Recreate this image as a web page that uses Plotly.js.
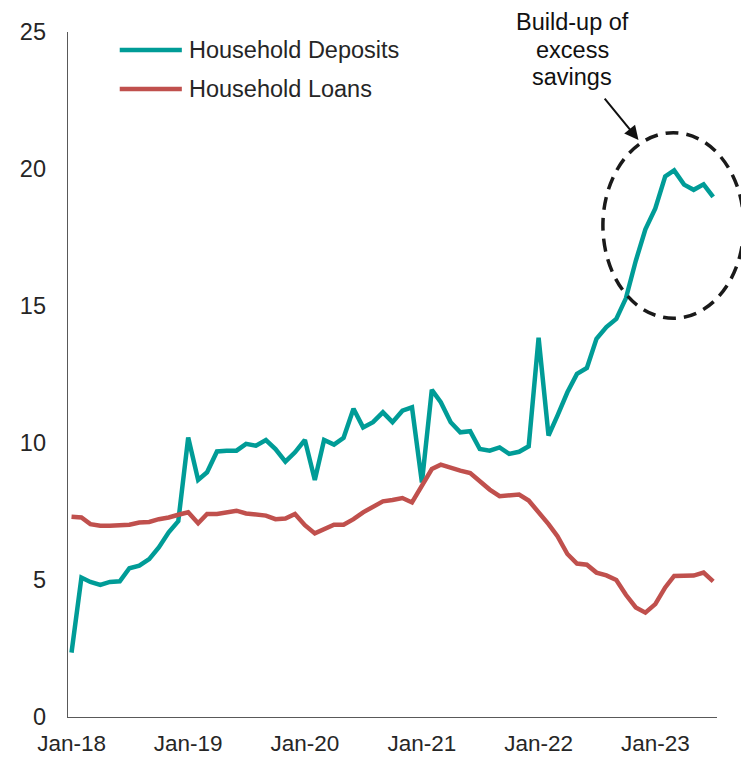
<!DOCTYPE html>
<html>
<head>
<meta charset="utf-8">
<script src="https://cdn.plot.ly/plotly-3.0.1.min.js"></script>
<style>
  html, body { margin: 0; padding: 0; background: #ffffff; }
  #chart { width: 741px; height: 757px; }
</style>
</head>
<body>
<div id="chart"></div>
<script>
// Monthly observations, Jan-2018 .. Jul-2023
const months = [
  '2018-01-01','2018-02-01','2018-03-01','2018-04-01','2018-05-01','2018-06-01',
  '2018-07-01','2018-08-01','2018-09-01','2018-10-01','2018-11-01','2018-12-01',
  '2019-01-01','2019-02-01','2019-03-01','2019-04-01','2019-05-01','2019-06-01',
  '2019-07-01','2019-08-01','2019-09-01','2019-10-01','2019-11-01','2019-12-01',
  '2020-01-01','2020-02-01','2020-03-01','2020-04-01','2020-05-01','2020-06-01',
  '2020-07-01','2020-08-01','2020-09-01','2020-10-01','2020-11-01','2020-12-01',
  '2021-01-01','2021-02-01','2021-03-01','2021-04-01','2021-05-01','2021-06-01',
  '2021-07-01','2021-08-01','2021-09-01','2021-10-01','2021-11-01','2021-12-01',
  '2022-01-01','2022-02-01','2022-03-01','2022-04-01','2022-05-01','2022-06-01',
  '2022-07-01','2022-08-01','2022-09-01','2022-10-01','2022-11-01','2022-12-01',
  '2023-01-01','2023-02-01','2023-03-01','2023-04-01','2023-05-01','2023-06-01',
  '2023-07-01'
];

const householdDeposits = [
  2.35, 5.09, 4.93, 4.82, 4.93, 4.95, 5.43, 5.52, 5.76, 6.19, 6.74, 7.15,
  10.2, 8.65, 8.93, 9.69, 9.72, 9.72, 9.97, 9.90, 10.11, 9.78, 9.32, 9.66,
  10.11, 8.65, 10.11, 9.94, 10.19, 11.25, 10.57, 10.76, 11.12, 10.76, 11.18, 11.30,
  8.56, 11.94, 11.49, 10.76, 10.39, 10.43, 9.78, 9.72, 9.84, 9.60, 9.68, 9.88,
  13.84, 10.27, 11.00, 11.85, 12.52, 12.74, 13.80, 14.23, 14.53, 15.28, 16.65, 17.80,
  18.56, 19.73, 19.95, 19.43, 19.24, 19.44, 18.98
];

const householdLoans = [
  7.31, 7.28, 7.04, 6.98, 6.98, 6.98, 7.02, 7.10, 7.12, 7.22, 7.28, 7.38,
  7.47, 7.07, 7.41, 7.41, 7.47, 7.53, 7.43, 7.37, 7.35, 7.22, 7.24, 7.41,
  7.00, 6.70, 6.86, 7.02, 7.02, 7.22, 7.47, 7.65, 7.87, 7.92, 7.99, 7.83,
  8.45, 9.05, 9.21, 9.09, 8.99, 8.90, 8.60, 8.30, 8.06, 8.10, 8.12, 7.90,
  7.50, 7.04, 6.60, 5.95, 5.60, 5.56, 5.27, 5.17, 5.00, 4.46, 4.00, 3.81,
  4.12, 4.73, 5.15, 5.15, 5.16, 5.27, 4.95
];

const xTickVals = ['2018-01-01','2019-01-01','2020-01-01','2021-01-01','2022-01-01','2023-01-01'];
const xTickText = ['Jan-18','Jan-19','Jan-20','Jan-21','Jan-22','Jan-23'];
const yTickVals = [0, 5, 10, 15, 20, 25];

const seriesNames = ['Household Deposits', 'Household Loans'];
const annotationLines = ['Build-up of', 'excess', 'savings'];

const TEAL = '#009C97';
const RED = '#C0504D';
const AXIS = '#595959';
const TEXT = '#262626';
const FONT = 'Arial, "Liberation Sans", sans-serif';
const FS = 23.5;

const traces = [
  { x: months, y: householdDeposits, type: 'scatter', mode: 'lines', name: seriesNames[0],
    line: { color: TEAL, width: 4.5 }, showlegend: false, hoverinfo: 'x+y' },
  { x: months, y: householdLoans, type: 'scatter', mode: 'lines', name: seriesNames[1],
    line: { color: RED, width: 4.5 }, showlegend: false, hoverinfo: 'x+y' }
];

const noteY = [1.0146, 0.973, 0.9343];

const layout = {
  width: 741, height: 757,
  margin: { l: 68, r: 24, t: 32, b: 40, pad: 0 },
  paper_bgcolor: '#ffffff', plot_bgcolor: '#ffffff',
  font: { family: FONT, size: FS, color: TEXT },
  showlegend: false,
  xaxis: {
    type: 'date',
    range: ['2017-12-21', '2023-07-13'],
    tickmode: 'array', tickvals: xTickVals, ticktext: xTickText,
    showline: true, linecolor: AXIS, linewidth: 1.3,
    showgrid: false, zeroline: false, ticks: '',
    ticklabelstandoff: 6, automargin: false,
    tickfont: { family: FONT, size: 22.5, color: TEXT }
  },
  yaxis: {
    range: [0, 25],
    tickmode: 'array', tickvals: yTickVals,
    showline: true, linecolor: AXIS, linewidth: 1.3,
    showgrid: false, zeroline: false, ticks: '',
    ticklabelstandoff: 16, automargin: false,
    tickfont: { family: FONT, size: FS, color: TEXT }
  },
  shapes: [
    // legend line samples
    { type: 'line', xref: 'paper', yref: 'paper', x0: 0.0797, x1: 0.1754, y0: 0.9737, y1: 0.9737,
      line: { color: TEAL, width: 4.5 } },
    { type: 'line', xref: 'paper', yref: 'paper', x0: 0.0797, x1: 0.1754, y0: 0.9168, y1: 0.9168,
      line: { color: RED, width: 4.5 } },
    // dashed ellipse highlighting the build-up
    { type: 'circle', xref: 'paper', yref: 'paper', layer: 'above',
      x0: 0.8242, x1: 1.0413, y0: 0.582, y1: 0.853,
      line: { color: '#1a1a1a', width: 3.5, dash: '13px,8px' } }
  ],
  annotations: [
    { xref: 'paper', yref: 'paper', x: 0.1834, y: 0.9737, xanchor: 'left', yanchor: 'middle',
      text: seriesNames[0], showarrow: false, font: { family: FONT, size: FS, color: TEXT } },
    { xref: 'paper', yref: 'paper', x: 0.1834, y: 0.9168, xanchor: 'left', yanchor: 'middle',
      text: seriesNames[1], showarrow: false, font: { family: FONT, size: FS, color: TEXT } }
  ].concat(annotationLines.map((t, k) => ({
      xref: 'paper', yref: 'paper', x: 0.777, y: noteY[k], xanchor: 'center', yanchor: 'middle',
      text: t, showarrow: false, font: { family: FONT, size: FS, color: '#111111' }
  }))).concat([
    { xref: 'paper', yref: 'paper', x: 0.879, y: 0.8423, text: '', showarrow: true,
      ax: -35, ay: -43, arrowhead: 2, arrowsize: 1.4, arrowwidth: 2, arrowcolor: '#111111' }
  ])
};

Plotly.newPlot('chart', traces, layout, { staticPlot: true, displayModeBar: false });
</script>
</body>
</html>
